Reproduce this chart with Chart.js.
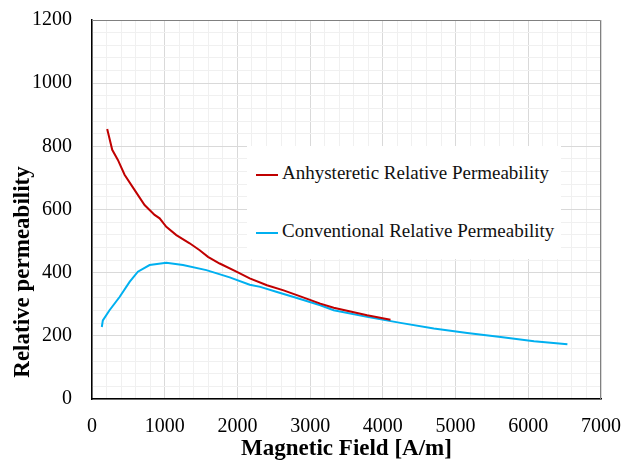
<!DOCTYPE html>
<html>
<head>
<meta charset="utf-8">
<script src="https://cdn.jsdelivr.net/npm/chart.js@4/dist/chart.umd.min.js"></script>
<style>
  body { margin: 0; background: #fff; }
  #wrap { position: relative; width: 627px; height: 463px; }
  #legendBox {
    position: absolute; left: 247px; top: 146px; width: 314px; height: 113px;
    background: #fff; font-family: "Liberation Serif", serif; font-size: 19px; color: #111;
  }
  .item { position: absolute; left: 9px; height: 22px; line-height: 22px; white-space: nowrap; }
  .item span.sw { display: inline-block; width: 22px; height: 2px; vertical-align: middle; margin-right: 4px; }
</style>
</head>
<body>
<div id="wrap">
  <canvas id="LineChart" width="627" height="463"></canvas>
  <div id="legendBox">
    <div class="item" style="top:16px"><span class="sw" style="background:#c00000"></span>Anhysteretic Relative Permeability</div>
    <div class="item" style="top:74px"><span class="sw" style="background:#00b0f0"></span>Conventional Relative Permeability</div>
  </div>
</div>
<script>
// anhysteretic curve
var fieldAnhys = [209, 278, 356, 448, 562, 723, 861, 930, 1022, 1160, 1343, 1481, 1595, 1756, 1986, 2169, 2406, 2635, 2865, 3140, 3324, 3554, 3783, 4105];
var permAnhys  = [855, 789, 757, 710, 670, 614, 583, 572, 545, 519, 493, 471, 450, 429, 403, 382, 360, 344, 325, 302, 289, 277, 265, 251];

// conventional curve
var fieldConv = [135, 149, 241, 379, 517, 631, 792, 1022, 1251, 1573, 1894, 2169, 2314, 2544, 2773, 3140, 3324, 3783, 4242, 4701, 5161, 5620, 6079, 6538];
var permConv  = [228, 249, 281, 323, 371, 403, 424, 431, 424, 408, 385, 362, 355, 339, 323, 297, 281, 260, 241, 223, 209, 196, 183, 173];

var xTicks = [0, 1000, 2000, 3000, 4000, 5000, 6000, 7000];
var yTicks = [0, 200, 400, 600, 800, 1000, 1200];

var yTitle = 'Relative permeability';

function toPoints(xs, ys) {
    var out = [];
    for (var i = 0; i < xs.length; i++) out.push({ x: xs[i], y: ys[i] });
    return out;
}

var serif = '"Liberation Serif", "Times New Roman", serif';
var tickFont = { family: serif, size: 20 };
var titleFont = { family: serif, size: 23, weight: 'bold' };

// grey frame on top and right of the plot area, plus the y title
// (in the original the y title sits lower than the axis centre)
var frame = {
    id: 'frame',
    afterDraw: function (chart) {
        var a = chart.chartArea, c = chart.ctx;
        c.save();
        c.strokeStyle = '#808080';
        c.lineWidth = 1;
        c.beginPath();
        c.moveTo(a.left, a.top + 0.5);
        c.lineTo(a.right - 0.5, a.top + 0.5);
        c.lineTo(a.right - 0.5, a.bottom);
        c.stroke();

        c.translate(23, 272);
        c.rotate(-Math.PI / 2);
        c.font = 'bold 23px ' + serif;
        c.fillStyle = '#000';
        c.textAlign = 'center';
        c.textBaseline = 'middle';
        c.fillText(yTitle, 0, 0);
        c.restore();
    }
};

var ctx = document.getElementById('LineChart').getContext('2d');
var myChart = new Chart(ctx, {
    type: 'line',
    data: {
        datasets: [{
            label: 'Anhysteretic Relative Permeability',
            data: toPoints(fieldAnhys, permAnhys),
            borderColor: '#c00000',
            borderWidth: 2,
            pointRadius: 0,
            tension: 0,
            fill: false
        }, {
            label: 'Conventional Relative Permeability',
            data: toPoints(fieldConv, permConv),
            borderColor: '#00b0f0',
            borderWidth: 2,
            pointRadius: 0,
            tension: 0,
            fill: false
        }]
    },
    options: {
        responsive: false,
        animation: false,
        devicePixelRatio: 1,
        layout: { padding: { top: 20, right: 26, left: 0, bottom: 0 } },
        plugins: { legend: { display: false }, tooltip: { enabled: false } },
        scales: {
            x: {
                type: 'linear',
                min: 0, max: 7000,
                afterFit: function (s) { s.height = 64; s.paddingLeft = 0; s.paddingRight = 0; },
                ticks: {
                    stepSize: 200, autoSkip: false, maxRotation: 0, padding: 16,
                    color: '#000', font: tickFont,
                    callback: function (v) { return xTicks.indexOf(v) >= 0 ? String(v) : ''; }
                },
                grid: {
                    drawTicks: false,
                    color: function (c) { return c.tick && c.tick.value % 1000 === 0 ? '#d9d9d9' : '#f0f0f0'; }
                },
                border: { color: '#000', width: 1.5 },
                title: { display: true, text: 'Magnetic Field [A/m]', color: '#000', font: titleFont, padding: { top: 0, bottom: 0 } }
            },
            y: {
                min: 0, max: 1200,
                afterFit: function (s) { s.width = 92; s.paddingTop = 0; s.paddingBottom = 0; },
                ticks: {
                    stepSize: 40, autoSkip: false, padding: 20,
                    color: '#000', font: tickFont,
                    callback: function (v) { return yTicks.indexOf(v) >= 0 ? String(v) : ''; }
                },
                grid: {
                    drawTicks: false,
                    color: function (c) { return c.tick && c.tick.value % 200 === 0 ? '#d9d9d9' : '#f0f0f0'; }
                },
                border: { color: '#000', width: 1.5 }
            }
        }
    },
    plugins: [frame]
});
</script>
</body>
</html>
